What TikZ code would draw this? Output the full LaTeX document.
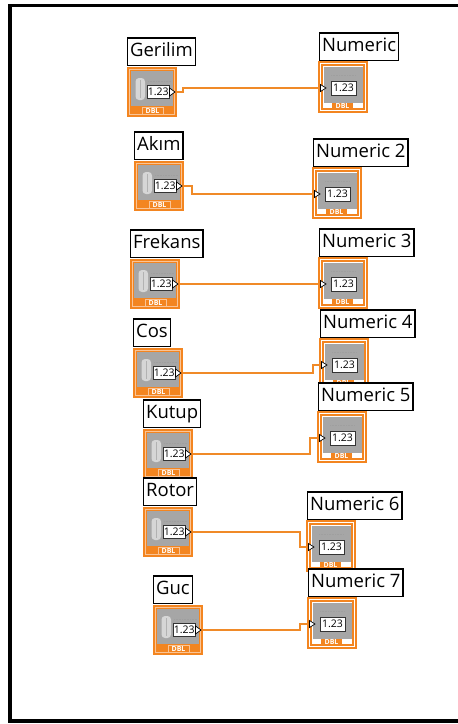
\documentclass[tikz,border=0pt]{standalone}
\usepackage{fontspec}
\setmainfont{Open Sans}
\definecolor{lvor}{RGB}{243,133,32}
\definecolor{lvlight}{RGB}{250,196,150}
\definecolor{lvgrey}{RGB}{166,166,166}
\definecolor{lvspin}{RGB}{214,214,214}
\definecolor{lvwire}{RGB}{240,138,40}
\tikzset{
  ctrlbox/.style={rectangle, fill=lvor, minimum width=50pt, minimum height=50pt, inner sep=0pt, outer sep=0pt},
  indbox/.style={rectangle, draw=lvor, line width=1.2pt, fill=white, minimum width=48pt, minimum height=50pt, inner sep=0pt, outer sep=0pt},
  lbl/.style={draw=black, line width=1.3pt, fill=white, anchor=south west, inner xsep=2.5pt, inner ysep=4.5pt,
    text height=14pt, text depth=4.5pt, font=\fontsize{18.5}{20}\selectfont},
  numbox/.style={draw=black!80, line width=0.6pt, fill=white},
  numtxt/.style={font=\fontsize{10.5}{11}\selectfont, inner sep=0pt},
  dbltxt/.style={font=\fontsize{7}{7}\selectfont\bfseries, text=white, inner sep=0pt},
  wire/.style={draw=lvwire, line width=1.4pt},
  term/.style={draw=black, fill=white, line width=0.7pt, line join=miter},
  dotline/.style={draw=gray!75, line width=0.4pt, dash pattern=on 0.8pt off 0.8pt},
}
\newcommand\mkctrl[4]{%
  \node[ctrlbox, anchor=north west] (#1) at (#2,#3) {};
  \begin{scope}[shift={(#1.north west)}]
    \draw[lvlight, line width=0.8pt] (2.5,2.5) rectangle (47.5,47.5);
    \fill[lvgrey] (4,3.5) rectangle (46,38.5);
    \fill[lvspin, rounded corners=3.5pt] (8.5,11) rectangle (18,33);
    \draw[gray!60, line width=0.4pt] (13.2,13) -- (13.2,31);
    \draw[dotline] (21,14) -- (44,14);
    \filldraw[numbox] (20.5,18) rectangle (42,31);
    \node[numtxt] at (31.3,24.5) {1.23};
    \filldraw[term] (42.5,21) -- (48,25) -- (42.5,29) -- cycle;
    \fill[lvlight] (14.5,39.5) rectangle (36.5,47.5);
    \fill[lvor] (15.5,40.5) rectangle (35.5,46.5);
    \node[dbltxt] at (25.5,43.6) {DBL};
  \end{scope}
  \node[lbl] (#1-l) at ([yshift=1pt]#1.north west) {#4};
  \coordinate (#1-o) at ([shift={(50,25)}]#1.north west);
}
\newcommand\mkind[4]{%
  \node[indbox, anchor=north west] (#1) at (#2,#3) {};
  \begin{scope}[shift={(#1.north west)}]
    \draw[lvor, line width=1.1pt] (3,3) rectangle (45,47);
    \fill[lvgrey] (4.5,4.5) rectangle (43.5,40.5);
    \draw[dotline] (12,13) -- (37,13);
    \filldraw[numbox] (12,19.5) rectangle (37,33);
    \node[numtxt] at (24.5,26.2) {1.23};
    \filldraw[term] (1.5,22.5) -- (7,26) -- (1.5,29.5) -- cycle;
    \fill[lvor] (13,40.5) rectangle (34,47);
    \node[dbltxt] at (23.5,43.8) {DBL};
  \end{scope}
  \node[lbl] (#1-l) at ([yshift=1pt]#1.north west) {#4};
  \coordinate (#1-i) at ([shift={(0,26)}]#1.north west);
}
\begin{document}
\begin{tikzpicture}[x=1pt,y=-1pt]
\useasboundingbox (0,0) rectangle (458,724);
\fill[white] (0,0) rectangle (458,724);
% frame
\draw[line width=3.6pt, line join=miter] (470,5.5) -- (10,5.5) -- (10,721) -- (470,721);

% controls and indicators
\mkctrl{ger}{127}{67}{Gerilim}
\mkind{n1}{319}{62}{Numeric}
\mkctrl{akm}{134}{161}{Akım}
\mkind{n2}{313}{168}{Numeric 2}
\mkctrl{frk}{130}{259}{Frekans}
\mkind{n3}{319}{258}{Numeric 3}
\mkctrl{cos}{133}{348}{Cos}
\mkind{n4}{320}{339}{Numeric 4}
\mkctrl{kut}{143}{429}{Kutup}
\mkind{n5}{318}{412}{Numeric 5}
\mkctrl{rot}{143}{507}{Rotor}
\mkind{n6}{307}{521}{Numeric 6}
\mkctrl{guc}{153}{605}{Guc}
\mkind{n7}{308}{598}{Numeric 7}

% wires
\draw[wire] (ger-o) -- ++(6,0) |- (n1-i);
\draw[wire] (akm-o) -- ++(8,0) |- (n2-i);
\draw[wire] (frk-o) -- (n3-i);
\draw[wire] (cos-o) -- ++(130,0) |- (n4-i);
\draw[wire] (kut-o) -- ++(117,0) |- (n5-i);
\draw[wire] (rot-o) -- ++(107,0) |- (n6-i);
\draw[wire] (guc-o) -- ++(97,0) |- (n7-i);
\end{tikzpicture}
\end{document}
